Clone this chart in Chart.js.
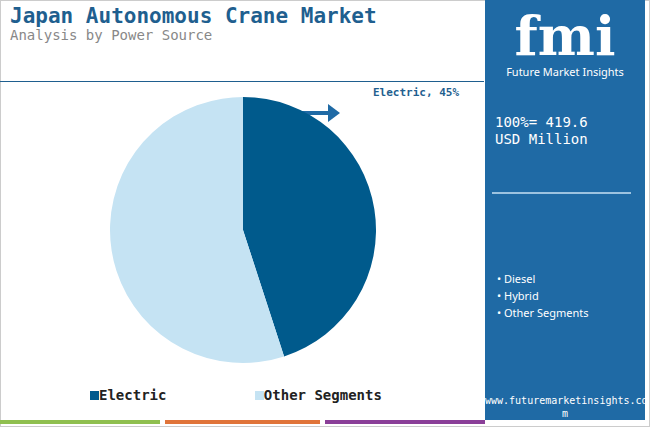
<!DOCTYPE html>
<html><head><meta charset="utf-8">
<script src="https://cdn.jsdelivr.net/npm/chart.js@4"></script>
<style>
body{margin:0;width:650px;height:427px;position:relative;background:#fff;font-family:"DejaVu Sans Mono",monospace;overflow:hidden}
.abs{position:absolute}
</style></head><body>
<div class="abs" style="left:0;top:0;width:650px;height:427px;border:1px solid #ccc;box-sizing:border-box"></div>
<div class="abs" style="left:10px;top:4px;font-size:21px;font-weight:bold;color:#1f5f8f">Japan Autonomous Crane Market</div>
<div class="abs" style="left:10px;top:27px;font-size:14px;color:#888">Analysis by Power Source</div>
<div class="abs" style="left:0;top:81px;width:484px;height:1px;background:#1f5f8f"></div>
<div class="abs" style="left:485px;top:0;width:160px;height:420px;background:#1f6aa5"></div>
<div class="abs" style="left:485px;top:8px;width:160px;text-align:center;color:#fff;font-family:'DejaVu Serif',serif;font-size:54px;font-weight:bold;line-height:56px">fmi</div>
<div class="abs" style="left:485px;top:64px;width:160px;text-align:center;color:#fff;font-family:'Noto Sans',sans-serif;font-size:11px">Future Market Insights</div>
<div class="abs" style="left:495px;top:114px;color:#fff;font-size:14px;line-height:17px">100%= 419.6<br>USD Million</div>
<div class="abs" style="left:492px;top:192px;width:139px;height:2px;background:#9cc3e0"></div>
<div class="abs" style="left:497px;top:270px;color:#fff;font-family:'Noto Sans',sans-serif;font-size:11px;line-height:17px">• Diesel<br>• Hybrid<br>• Other Segments</div>
<div class="abs" style="left:485px;top:394px;width:160px;text-align:center;color:#fff;font-size:10px;line-height:13px">www.futuremarketinsights.co<br>m</div>
<div class="abs" style="left:373px;top:86px;font-size:11px;font-weight:bold;color:#1f5f8f">Electric, 45%</div>
<svg class="abs" style="left:300px;top:102px" width="42" height="22"><line x1="2" y1="11" x2="30" y2="11" stroke="#1f6aa5" stroke-width="4"/><polygon points="28,2 40,11 28,20" fill="#1f6aa5"/></svg>
<div class="abs" style="left:0;top:420px;width:160px;height:4px;background:#8fbf4f"></div>
<div class="abs" style="left:165px;top:420px;width:155px;height:4px;background:#e0743a"></div>
<div class="abs" style="left:325px;top:420px;width:160px;height:4px;background:#8a3f98"></div>
<div class="abs" style="left:90px;top:387px;font-size:14px;font-weight:bold;color:#222"><span style="display:inline-block;width:9px;height:9px;background:#005a8c"></span>Electric <span style="margin-left:80px;display:inline-block;width:9px;height:9px;background:#c5e3f3"></span>Other Segments</div>
<div class="abs" style="left:103px;top:90px;width:280px;height:280px"><canvas id="c"></canvas></div>
<script>
const categories=["Electric","Other Segments"];
const values=[45,55];
const colors=["#005a8c","#c5e3f3"];
new Chart(document.getElementById('c'),{type:'pie',data:{labels:categories,datasets:[{data:values,backgroundColor:colors,borderWidth:0}]},
options:{responsive:true,maintainAspectRatio:false,animation:false,layout:{padding:7},plugins:{legend:{display:false},tooltip:{enabled:false}}}});
</script>
</body></html>
